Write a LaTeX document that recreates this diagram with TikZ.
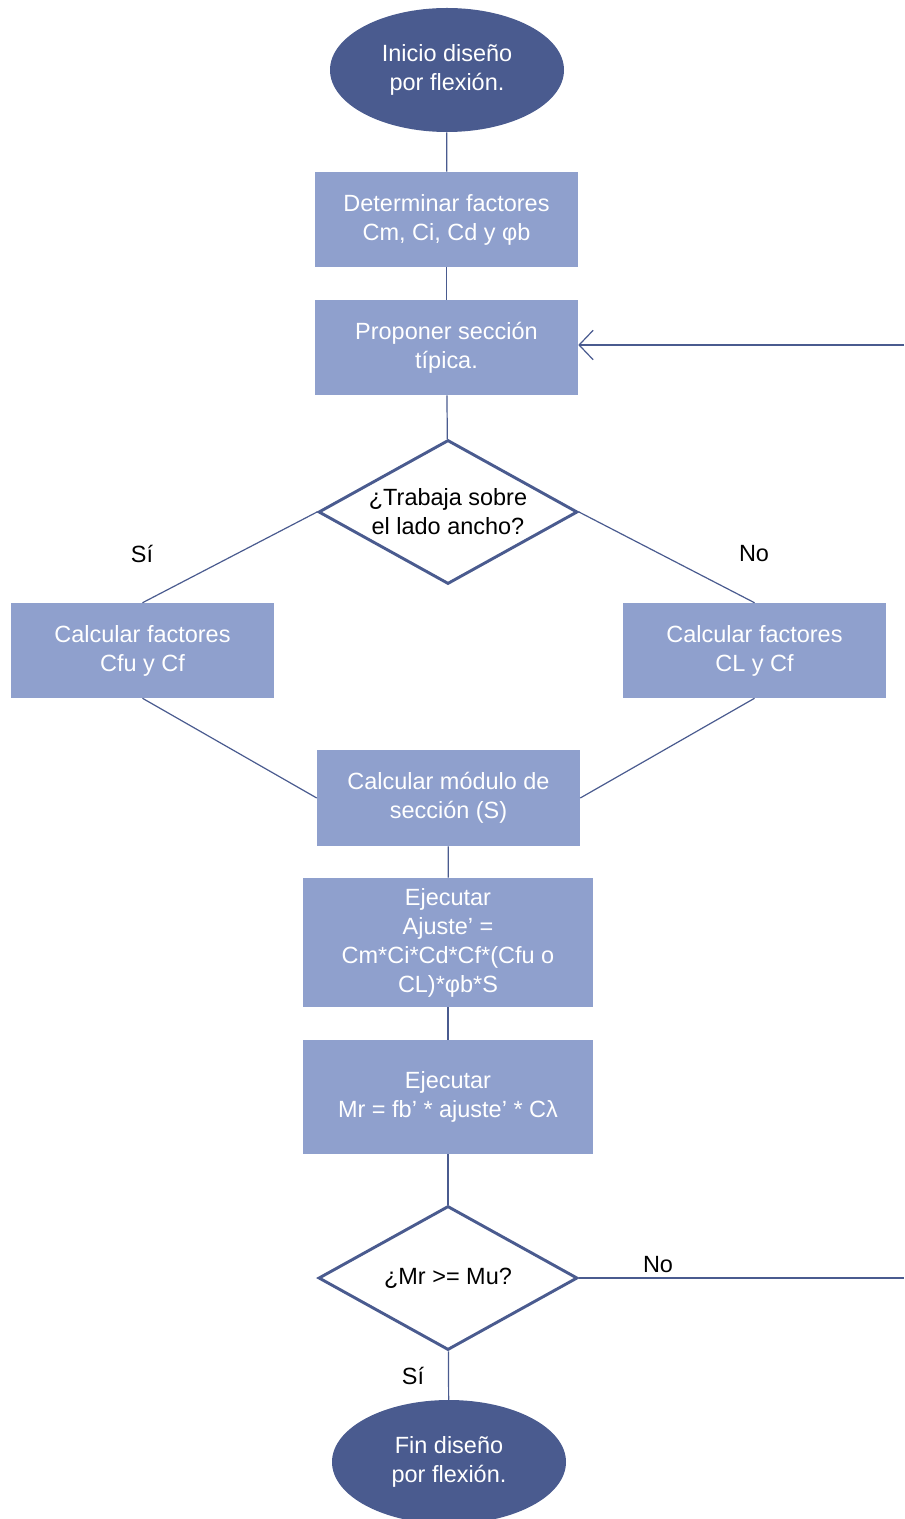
\documentclass[tikz,border=0pt]{standalone}
\usepackage{fontspec}
\setmainfont{Liberation Sans}
\usetikzlibrary{shapes.geometric, arrows.meta}

\definecolor{darkblue}{HTML}{4A5B8F}
\definecolor{lightblue}{HTML}{8FA0CD}

\begin{document}
\begin{tikzpicture}[x=0.75pt, y=-0.75pt, >={Straight Barb[length=10.5pt, width=22pt]},
    font=\fontsize{17.6}{21.75}\selectfont]
        % --- STILI ---
        \tikzset{
            terminal/.style={ellipse, fill=darkblue, text=white, inner sep=0pt, minimum width=175.5pt, minimum height=93pt, align=center},
            block/.style={rectangle, fill=lightblue, text=white, inner sep=0pt, minimum width=197.25pt, minimum height=71.25pt, align=center},
            wideblock/.style={block, minimum width=217.5pt},
            decision/.style={diamond, aspect=1.8, draw=darkblue, line width=2.2pt, fill=white, inner sep=0pt, minimum width=194.25pt, minimum height=108pt, align=center},
            link/.style={draw=darkblue, line width=0.9pt},
            tag/.style={inner sep=0pt}
        }

        \useasboundingbox (0,0) rectangle (904,1519);

        % --- COLONNA CENTRALE ---
        \node [terminal] (start) at (447,70) {Inicio diseño\\por flexión.};
        \node [block] (factors) at (446.5,219.5) {Determinar factores\\Cm, Ci, Cd y φb};
        \node [block] (propose) at (446.5,347.5) {Proponer sección\\típica.};
        \node [decision] (side) at (448,512) {¿Trabaja sobre\\el lado ancho?};

        % --- RAMI ---
        \node [block] (cfu) at (142.5,650.5) {Calcular factores\\Cfu y Cf};
        \node [block] (cl) at (754.5,650.5) {Calcular factores\\CL y Cf};
        \node [tag] at (142,554) {Sí};
        \node [tag] at (754,554) {No};

        \node [block, minimum height=72pt] (module) at (448.5,798) {Calcular módulo de\\sección (S)};
        \node [wideblock, minimum height=96.75pt] (adjust) at (448,942.5) {Ejecutar\\Ajuste’ =\\Cm*Ci*Cd*Cf*(Cfu o\\CL)*φb*S};
        \node [wideblock, minimum height=85.5pt] (moment) at (448,1097) {Ejecutar\\Mr = fb’ * ajuste’ * Cλ};
        \node [decision] (check) at (448,1278) {¿Mr >= Mu?};
        \node [terminal] (finish) at (449,1462) {Fin diseño\\por flexión.};

        \node [tag] at (658,1265) {No};
        \node [tag] at (413,1376) {Sí};

        \coordinate (ret_in) at (904,345);
        \coordinate (ret_out) at (904,1278);

        % --- CONNESSIONI ---
        \draw [link] (start) -- (factors);
        \draw [link] (factors) -- (propose);
        \draw [link] (propose) -- (side);
        \draw [link] (side.west) -- (cfu.north);
        \draw [link] (side.east) -- (cl.north);
        \draw [link] (cfu.south) -- (module.west);
        \draw [link] (cl.south) -- (module.east);
        \draw [link] (module) -- (adjust);
        \draw [link] (adjust) -- (moment);
        \draw [link] (moment) -- (check);
        \draw [link] (check) -- (finish);
        \draw [link] (check.east) -- (ret_out);
        \draw [link, ->] (ret_in) -- (propose.east |- ret_in);

\end{tikzpicture}
\end{document}
